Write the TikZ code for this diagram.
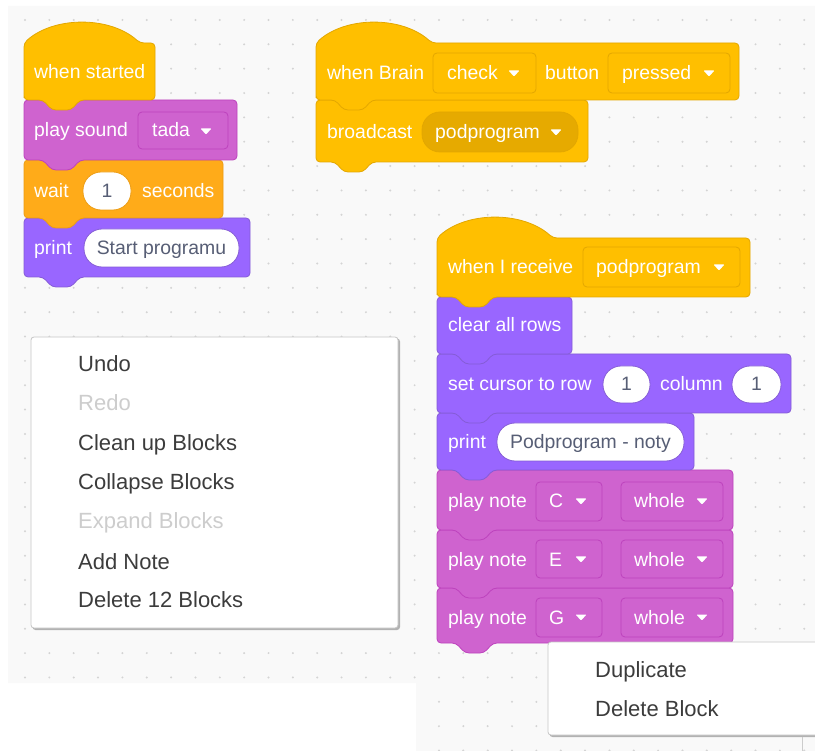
\documentclass[tikz,border=0pt]{standalone}
\usepackage{fontspec}
\setmainfont{Liberation Sans}
\definecolor{canvasbg}{HTML}{F9F9F9}
\definecolor{dotc}{HTML}{D4D4D4}
\definecolor{evt}{HTML}{FFBF00}
\definecolor{evtd}{HTML}{E3A700}
\definecolor{evtin}{HTML}{E6AA00}
\definecolor{snd}{HTML}{CF63CF}
\definecolor{sndd}{HTML}{BD42BD}
\definecolor{ctl}{HTML}{FFAB19}
\definecolor{ctld}{HTML}{EC9C13}
\definecolor{lks}{HTML}{9966FF}
\definecolor{lksd}{HTML}{855CD6}
\definecolor{intxt}{HTML}{575E75}
\definecolor{menutxt}{HTML}{3C3C3C}
\definecolor{menudis}{HTML}{CDCDCD}
\tikzset{
  btxt/.style={font=\fontsize{19.4}{23}\selectfont, text=white, inner sep=0pt, anchor=base west},
  itxt/.style={font=\fontsize{19.4}{23}\selectfont, text=intxt, inner sep=0pt, anchor=base},
  mtxt/.style={font=\fontsize{22}{26}\selectfont, text=menutxt, inner sep=0pt, anchor=base west},
  mdis/.style={mtxt, text=menudis},
  blk/.style={line width=0.8pt, rounded corners=4pt}
}
% hat block: fill, draw, x0, ytop, x1, ybot
\newcommand\hatblk[6]{%
  \draw[blk, fill=#1, draw=#2] (#3,{#6-6}) -- (#3,#4)
    .. controls ({#3+30},{#4-27}) and ({#3+86},{#4-27}) .. ({#3+116},#4)
    -- (#5,#4) -- (#5,#6) -- ({#3+56},#6) -- ({#3+47},{#6+10}) -- ({#3+28},{#6+10})
    -- ({#3+19},#6) -- (#3,#6) -- cycle;}
% stack block: fill, draw, x0, ytop, x1, ybot
\newcommand\stkblk[6]{%
  \draw[blk, fill=#1, draw=#2] (#3,#4) -- (#5,#4) -- (#5,#6) -- ({#3+56},#6)
    -- ({#3+47},{#6+10}) -- ({#3+28},{#6+10}) -- ({#3+19},#6) -- (#3,#6) -- cycle;}
% dropdown box: fill, draw, x0, y0, x1, y1
\newcommand\ddbox[6]{%
  \draw[line width=0.8pt, rounded corners=4pt, fill=#1, draw=#2] (#3,#4) rectangle (#5,#6);}
% oval: fill, draw, x0, y0, x1, y1
\newcommand\ovalbox[6]{%
  \draw[line width=0.8pt, rounded corners=18pt, fill=#1, draw=#2] (#3,#4) rectangle (#5,#6);}
% dropdown triangle: cx, cy
\newcommand\ddtri[2]{%
  \fill[white, rounded corners=0.8pt] ({#1-5.5},{#2-2.5}) -- ({#1+5.5},{#2-2.5}) -- (#1,{#2+3.5}) -- cycle;}
\begin{document}
\begin{tikzpicture}[x=1pt, y=-1pt]
\useasboundingbox (0,0) rectangle (815,751);
\fill[white] (0,0) rectangle (815,751);
% canvas
\fill[canvasbg] (8,6) -- (815,6) -- (815,751) -- (416,751) -- (416,683) -- (8,683) -- cycle;
\begin{scope}
  \clip (8,6) -- (815,6) -- (815,751) -- (416,751) -- (416,683) -- (8,683) -- cycle;
  \foreach \i in {0,...,32} {
    \foreach \j in {0,...,30} {
      \fill[dotc] ({25+24.35*\i},{20+24.35*\j}) circle (1.1);
    }
  }
\end{scope}

% ---------- left stack ----------
\stkblk{lks}{lksd}{24}{218}{250}{277}
\ovalbox{white}{lksd}{84}{229}{239}{267}
\node[btxt] (prt1) at (34,255) {print};
\node[itxt] (prt1v) at (161.5,255) {Start programu};

\stkblk{ctl}{ctld}{24}{160}{223}{218}
\ovalbox{white}{ctld}{83}{172}{131}{210}
\node[btxt] (wait) at (34,198) {wait};
\node[itxt] (waitv) at (107,198) {1};
\node[btxt] (secs) at (142,198) {seconds};

\stkblk{snd}{sndd}{24}{100}{237}{160}
\ddbox{snd}{sndd}{138}{112}{228}{149}
\node[btxt] (psnd) at (34,137) {play sound};
\node[btxt] (tada) at (152,137) {tada};
\ddtri{206}{131}

\hatblk{evt}{evtd}{24}{43}{155}{100}
\node[btxt] (wst) at (34,79) {when started};

% ---------- top-right stack ----------
\stkblk{evt}{evtd}{316}{100}{588}{162}
\ovalbox{evtin}{evtd}{422}{112}{578}{152}
\node[btxt] (bcast) at (327,139) {broadcast};
\node[btxt] (bcastv) at (435,139) {podprogram};
\ddtri{556}{132}

\hatblk{evt}{evtd}{316}{43}{739}{100}
\ddbox{evt}{evtd}{433}{53}{536}{93}
\ddbox{evt}{evtd}{608}{53}{730}{93}
\node[btxt] (wbr) at (327,80) {when Brain};
\node[btxt] (chk) at (447,80) {check};
\ddtri{514}{73}
\node[btxt] (btn) at (545,80) {button};
\node[btxt] (prs) at (622,80) {pressed};
\ddtri{709}{73}

% ---------- right stack ----------
\stkblk{snd}{sndd}{437}{588}{733}{643}
\ddbox{snd}{sndd}{536}{598}{602}{637}
\ddbox{snd}{sndd}{621}{598}{723}{637}
\node[btxt] (pn3) at (448,624) {play note};
\node[btxt] (pn3a) at (549,624) {G};
\ddtri{581}{617}
\node[btxt] (pn3b) at (634,624) {whole};
\ddtri{702}{617}

\stkblk{snd}{sndd}{437}{530}{733}{588}
\ddbox{snd}{sndd}{536}{540}{602}{578}
\ddbox{snd}{sndd}{621}{540}{723}{578}
\node[btxt] (pn2) at (448,566) {play note};
\node[btxt] (pn2a) at (549,566) {E};
\ddtri{581}{559}
\node[btxt] (pn2b) at (634,566) {whole};
\ddtri{702}{559}

\stkblk{snd}{sndd}{437}{470}{733}{530}
\ddbox{snd}{sndd}{536}{482}{602}{521}
\ddbox{snd}{sndd}{621}{482}{723}{521}
\node[btxt] (pn1) at (448,508) {play note};
\node[btxt] (pn1a) at (549,508) {C};
\ddtri{581}{501}
\node[btxt] (pn1b) at (634,508) {whole};
\ddtri{702}{501}

\stkblk{lks}{lksd}{437}{413}{694}{470}
\ovalbox{white}{lksd}{497}{423}{684}{461}
\node[btxt] (prt2) at (448,449) {print};
\node[itxt] (prt2v) at (590.5,449) {Podprogram - noty};

\stkblk{lks}{lksd}{437}{354}{791}{413}
\ovalbox{white}{lksd}{603}{366}{650}{403}
\ovalbox{white}{lksd}{732}{366}{781}{403}
\node[btxt] (setc) at (448,391) {set cursor to row};
\node[itxt] (setr) at (626.5,391) {1};
\node[btxt] (col) at (660,391) {column};
\node[itxt] (colv) at (756.5,391) {1};

\stkblk{lks}{lksd}{437}{297}{572}{354}
\node[btxt] (clr) at (448,332) {clear all rows};

\hatblk{evt}{evtd}{437}{238}{750}{297}
\ddbox{evt}{evtd}{583}{247}{740}{287}
\node[btxt] (wrc) at (448,274) {when I receive};
\node[btxt] (wrcv) at (596,274) {podprogram};
\ddtri{719}{267}

% ---------- context menu 1 ----------
\fill[gray!60, rounded corners=3pt] (32.5,338.5) rectangle (400,630);
\draw[fill=white, draw=gray!45, line width=0.8pt, rounded corners=3pt] (31,337) rectangle (398,628);
\node[mtxt] (m1) at (78,372) {Undo};
\node[mdis] (m2) at (78,411) {Redo};
\node[mtxt] (m3) at (78,451) {Clean up Blocks};
\node[mtxt] (m4) at (78,490) {Collapse Blocks};
\node[mdis] (m5) at (78,529) {Expand Blocks};
\node[mtxt] (m6) at (78,569) {Add Note};
\node[mtxt] (m7) at (78,608) {Delete 12 Blocks};

% ---------- context menu 2 ----------
\begin{scope}
  \clip (0,0) rectangle (815,751);
  \fill[gray!60, rounded corners=3pt] (549.5,643.5) rectangle (830,737);
  \draw[fill=white, draw=gray!45, line width=0.8pt, rounded corners=3pt] (548,642) rectangle (830,735);
\end{scope}
\node[mtxt] (d1) at (595,677) {Duplicate};
\node[mtxt] (d2) at (595,716) {Delete Block};
\draw[gray!40, line width=1pt] (802,737) -- (802,751);
\end{tikzpicture}
\end{document}
